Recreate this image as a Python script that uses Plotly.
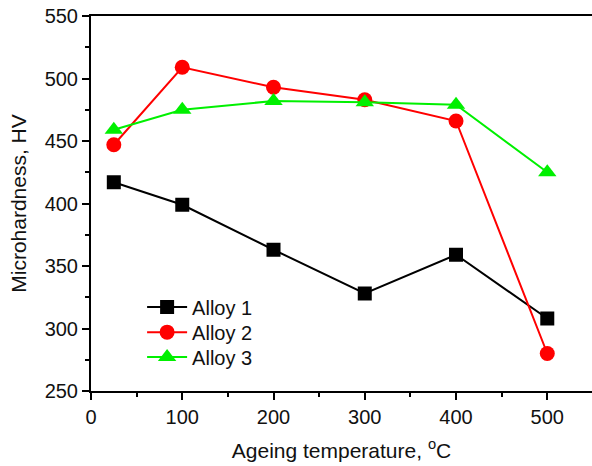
import plotly.graph_objects as go

temps = [25, 100, 200, 300, 400, 500]
alloy1 = [417, 399, 363, 328, 359, 308]
alloy2 = [447, 509, 493, 483, 466, 280]
alloy3 = [459, 475, 482, 481, 479, 425]

series = [
    ("Alloy 1", alloy1, "#000000", "square", 14, "legend"),
    ("Alloy 2", alloy2, "#ff0000", "circle", 15, "legend2"),
    ("Alloy 3", alloy3, "#00f000", "triangle-up", 16, "legend3"),
]

fig = go.Figure()
for name, vals, color, sym, size, leg in series:
    fig.add_trace(go.Scatter(
        x=temps, y=vals, name=name, mode="lines+markers",
        line=dict(color=color, width=2),
        marker=dict(symbol=sym, size=size, color=color),
        legend=leg,
    ))

font = "Liberation Sans, Arial, sans-serif"
leg_common = dict(xanchor="left", yanchor="middle", bgcolor="rgba(0,0,0,0)",
                  font=dict(size=20), itemwidth=40, x=0.102)
fig.update_layout(
    width=592, height=466,
    margin=dict(l=91, r=0, t=16, b=75, autoexpand=False),
    paper_bgcolor="white", plot_bgcolor="white",
    font=dict(family=font, size=20, color="#111111"),
    showlegend=True,
    legend=dict(y=0.224, **leg_common),
    legend2=dict(y=0.157, **leg_common),
    legend3=dict(y=0.091, **leg_common),
)
fig.update_xaxes(
    range=[0, 549], tickvals=[0, 100, 200, 300, 400, 500],
    showgrid=False, zeroline=False, automargin=False,
    showline=True, linecolor="black", linewidth=2, mirror=True,
    ticks="outside", ticklen=7, tickwidth=2, tickcolor="black",
    minor=dict(dtick=50, tick0=0, ticks="outside", ticklen=4, tickwidth=2, tickcolor="black"),
    title=dict(text="Ageing temperature, <sup>o</sup>C", font=dict(size=21), standoff=16),
)
fig.update_yaxes(
    range=[250, 550], tickvals=[250, 300, 350, 400, 450, 500, 550],
    showgrid=False, zeroline=False, automargin=False,
    showline=True, linecolor="black", linewidth=2,
    ticks="outside", ticklen=7, tickwidth=2, tickcolor="black",
    minor=dict(dtick=25, tick0=250, ticks="outside", ticklen=4, tickwidth=2, tickcolor="black"),
    title=dict(text="Microhardness, HV", font=dict(size=21), standoff=12),
)
fig.write_html("out.html", config={"displayModeBar": False},
               post_script="document.body.style.margin='0';")
